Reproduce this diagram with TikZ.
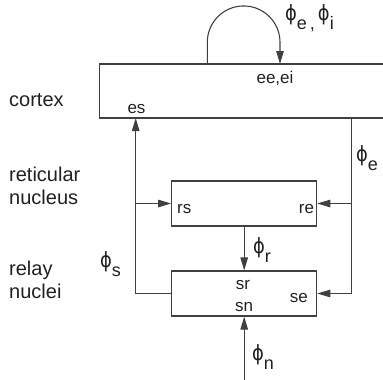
\documentclass[tikz,border=0pt]{standalone}
\usepackage{fontspec}
\setmainfont{Liberation Sans}
\newfontfamily\phifont{DejaVu Sans}
\usetikzlibrary{arrows.meta}
\definecolor{linec}{HTML}{404040}
\definecolor{textc}{HTML}{202020}
\newcommand\myphi[1]{\scalebox{0.85}[1]{\fontsize{21}{21}\selectfont\phifont ϕ}\raisebox{-9pt}{\fontsize{18}{18}\selectfont #1}}
\tikzset{
  box/.style={draw=linec, line width=1.1pt, rectangle, inner sep=0pt},
  conn/.style={draw=linec, line width=1.1pt},
  arr/.style={conn, -{Triangle[length=13pt,width=7.5pt]}},
  side/.style={anchor=base west, inner sep=0pt, text=textc, font=\fontsize{20}{23}\selectfont, align=left},
  lab/.style={inner sep=0pt, text=textc, font=\fontsize{17}{17}\selectfont},
  phl/.style={anchor=base west, inner sep=0pt, text=textc},
}
\begin{document}
\begin{tikzpicture}[x=1pt,y=-1pt]
\useasboundingbox (0,0) rectangle (383,380);
% boxes
\node[box, minimum width=288pt, minimum height=54pt] (cortex) at (243.5,91) {};
\node[box, minimum width=145pt, minimum height=45pt] (ret) at (244.2,203.5) {};
\node[box, minimum width=145pt, minimum height=45pt] (relay) at (244.2,293.5) {};
% coordinates
\coordinate (loopout) at (207.3,64);
\coordinate (loopin) at (280,64);
\coordinate (es) at (135.7,118);
\coordinate (eout) at (351.7,118);
\coordinate (inp) at (244.2,382);
% connectors
\draw[arr] (loopout) -- (207.3,42.3) arc[start angle=180, end angle=0, radius=36.35pt] -- (loopin);
\draw[arr] (relay.west) -| (es);
\draw[arr] (es |- ret.west) -- (ret.west);
\draw[arr] (eout) |- (relay.east);
\draw[arr] (eout |- ret.east) -- (ret.east);
\draw[arr] (ret.south) -- (relay.north);
\draw[arr] (inp) -- (relay.south);
% side labels
\node[side] (lc) at (9,106) {cortex};
\node[side] (lr) at (9,204) {reticular\\nucleus};
\node[side] (ln) at (9,298) {relay\\nuclei};
% inner labels
\node[lab, anchor=base] (ee) at (275,83) {ee,ei};
\node[lab, anchor=base west] (les) at (127.3,113) {es};
\node[lab, anchor=base west] (lrs) at (177,213) {rs};
\node[lab, anchor=base east] (lre) at (314.3,213) {re};
\node[lab, anchor=base] (lsr) at (243,289) {sr};
\node[lab, anchor=base] (lsn) at (244,311.7) {sn};
\node[lab, anchor=base east] (lse) at (308,302) {se};
% phi labels
\node[phl] (p1) at (285,20) {\myphi{e\,,}\hspace{3pt}\myphi{i}};
\node[phl] (p2) at (356,161) {\myphi{e}};
\node[phl] (p3) at (253,253) {\myphi{r}};
\node[phl] (p4) at (100,267) {\myphi{s}};
\node[phl] (p5) at (252,360) {\myphi{n}};
\end{tikzpicture}
\end{document}
